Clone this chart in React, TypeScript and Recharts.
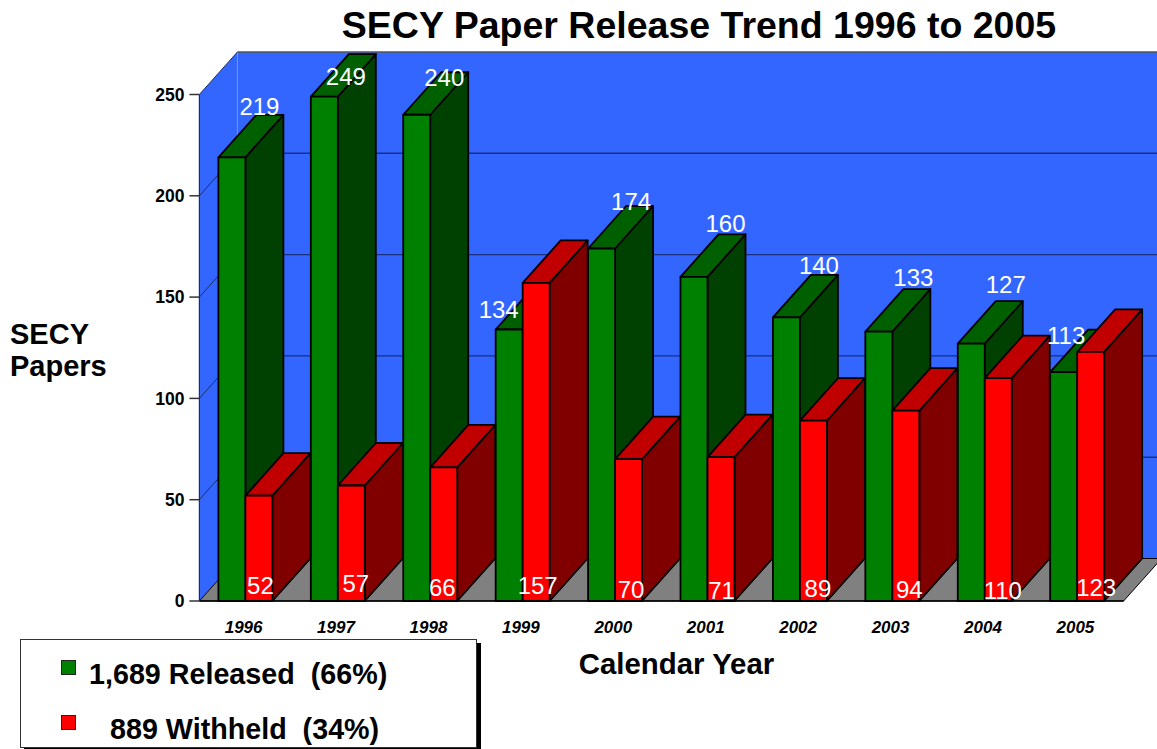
import React from 'react';
import { BarChart, Bar, XAxis, YAxis, Legend, ReferenceArea, LabelList, Label } from 'recharts';

const years = ['1996', '1997', '1998', '1999', '2000', '2001', '2002', '2003', '2004', '2005'];
const released = [219, 249, 240, 134, 174, 160, 140, 133, 127, 113];
const withheld = [52, 57, 66, 157, 70, 71, 89, 94, 110, 123];
const yTicks = [0, 50, 100, 150, 200, 250];
const data = years.map((year, i) => ({ year, released: released[i], withheld: withheld[i] }));

const DX = 38;
const DY = 42.5;
const FONT = '"Liberation Sans", Arial, sans-serif';

// hand placed value labels of the original: offsets from the bar's top-left (green) / bottom-left (red)
const greenLabelDx = [41, 35, 41, 3, 43, 45, 46, 48, 48, 16];
const greenLabelDy = [-51, -20, -37, -20, -47, -53, -52, -54, -59, -37];
const redLabelDx = [15, 18, 12, 15, 16, 14, 18, 17, 18, 19];
const redLabelDy = [-16, -18, -14, -16, -12, -11, -13, -12, -11, -14];

function Bar3D(colors: { front: string; top: string; side: string }) {
  return (p: any) => {
    const { x, y, width: w, height: h } = p;
    const edge = { stroke: '#000', strokeWidth: 1.8, strokeLinejoin: 'round' as const };
    return (
      <g>
        <polygon points={`${x + w},${y} ${x + w + DX},${y - DY} ${x + w + DX},${y + h - DY} ${x + w},${y + h}`} fill={colors.side} {...edge} />
        <polygon points={`${x},${y} ${x + DX},${y - DY} ${x + w + DX},${y - DY} ${x + w},${y}`} fill={colors.top} {...edge} />
        <rect x={x} y={y} width={w} height={h} fill={colors.front} {...edge} />
      </g>
    );
  };
}

function Walls(p: any) {
  const { x, y, width: w, height: h } = p;
  const bottom = y + h;
  const right = x + w;
  const yOf = (v: number) => bottom - (v / 250) * h;
  return (
    <g>
      <polygon points={`${x + DX},${y - DY} ${right + DX},${y - DY} ${right + DX},${bottom - DY} ${x + DX},${bottom - DY}`} fill="#3366ff" />
      <polygon points={`${x},${y} ${x + DX},${y - DY} ${x + DX},${bottom - DY} ${x},${bottom}`} fill="#3366ff" />
      <polygon points={`${x},${bottom} ${x + DX},${bottom - DY} ${right + DX},${bottom - DY} ${right},${bottom}`} fill="#808080" stroke="#000" strokeWidth={1} />
      <line x1={x + DX} y1={y - DY} x2={x + DX} y2={bottom - DY} stroke="#6d8fff" strokeWidth={1} />
      {yTicks.filter((v) => v > 0).map((v) => (
        <g key={v}>
          <line x1={x} y1={yOf(v)} x2={x + DX} y2={yOf(v) - DY} stroke="#1a2f66" strokeWidth={1} />
          <line x1={x + DX} y1={yOf(v) - DY} x2={right + DX} y2={yOf(v) - DY} stroke={v === 250 ? '#555' : '#1a2f80'} strokeWidth={1.4} />
        </g>
      ))}
      <line x1={x} y1={y} x2={x} y2={bottom} stroke="#1a2f66" strokeWidth={1.2} />
    </g>
  );
}

function ValueLabel(dxs: number[], dys: number[], fromBottom: boolean) {
  return (p: any) => {
    const { x, y, height, value, index } = p;
    const base = fromBottom ? y + height : y;
    return (
      <text x={x + dxs[index]} y={base + dys[index]} textAnchor="middle" dominantBaseline="central" fill="#fff" fontFamily={FONT} fontSize={24}>
        {value}
      </text>
    );
  };
}

function LegendBox({ payload }: any) {
  const pads = [89, 110];
  const tops = [20, 75];
  return (
    <div style={{ position: 'relative', width: 457, height: 109, background: '#fff', border: '1px solid #333', boxSizing: 'border-box', boxShadow: '4px 4px 0 #000', fontFamily: FONT }}>
      {(payload || []).map((e: any, i: number) => (
        <React.Fragment key={e.value}>
          <div style={{ position: 'absolute', left: 40, top: tops[i], width: 15, height: 15, boxSizing: 'border-box', background: e.color, border: '1.5px solid #222' }} />
          <div style={{ position: 'absolute', left: pads[i] - 21, top: tops[i] - 3, fontWeight: 700, fontSize: 28.7, lineHeight: '34px', whiteSpace: 'pre', color: '#000' }}>
            {e.value}
          </div>
        </React.Fragment>
      ))}
    </div>
  );
}

function YLabel() {
  return (
    <text fontFamily={FONT} fontWeight={700} fontSize={29} fill="#000">
      <tspan x={10} y={344}>SECY</tspan>
      <tspan x={10} y={376}>Papers</tspan>
    </text>
  );
}

export default function App() {
  return (
    <div style={{ position: 'absolute', left: 0, top: 0, width: 1157, height: 749, overflow: 'hidden', background: '#fff' }}>
      <BarChart
        width={1157}
        height={749}
        data={data}
        barSize={27}
        barGap={0}
        margin={{ top: 94.5, right: 33.4, bottom: 0, left: 159.4 }}
      >
        <text x={699} y={38} textAnchor="middle" fontFamily={FONT} fontWeight={700} fontSize={37.5} fill="#000">
          SECY Paper Release Trend 1996 to 2005
        </text>
        <ReferenceArea y1={0} y2={250} ifOverflow="visible" shape={Walls} />
        <XAxis
          dataKey="year"
          height={148}
          interval={0}
          tickLine={false}
          axisLine={{ stroke: '#000', strokeWidth: 1.5 }}
          tick={{ fontFamily: FONT, fontWeight: 700, fontStyle: 'italic', fontSize: 17, fill: '#000', dx: -2, dy: 12 }}
        >
          <Label value="Calendar Year" position="insideTop" dx={15} dy={47} fontFamily={FONT} fontWeight={700} fontSize={29.4} fill="#000" />
        </XAxis>
        <YAxis
          width={40}
          domain={[0, 250]}
          ticks={yTicks}
          interval={0}
          tickSize={10}
          tickMargin={5}
          tickLine={{ stroke: '#333', strokeWidth: 1.5 }}
          axisLine={false}
          tick={{ fontFamily: FONT, fontWeight: 700, fontSize: 17.5, fill: '#000' }}
          label={{ content: YLabel }}
        />
        <Legend
          layout="vertical"
          align="center"
          verticalAlign="middle"
          itemSorter="dataKey"
          content={LegendBox}
          wrapperStyle={{ position: 'absolute', left: 20, top: 639, width: 457, height: 109, right: 'auto', bottom: 'auto', margin: 0 }}
        />
        <Bar dataKey="released" name="1,689 Released  (66%)" fill="#008000" isAnimationActive={false} shape={Bar3D({ front: '#008000', top: '#006000', side: '#004000' })}>
          <LabelList dataKey="released" content={ValueLabel(greenLabelDx, greenLabelDy, false)} />
        </Bar>
        <Bar dataKey="withheld" name="889 Withheld  (34%)" fill="#ff0000" isAnimationActive={false} shape={Bar3D({ front: '#ff0000', top: '#c00000', side: '#800000' })}>
          <LabelList dataKey="withheld" content={ValueLabel(redLabelDx, redLabelDy, true)} />
        </Bar>
      </BarChart>
    </div>
  );
}
